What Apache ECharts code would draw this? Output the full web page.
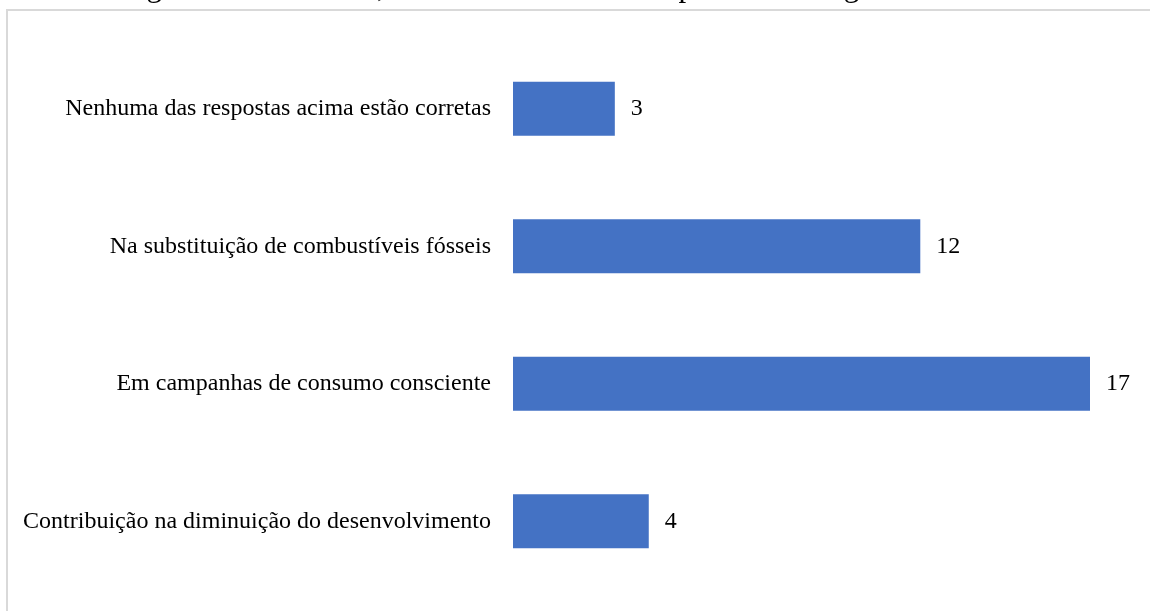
<!DOCTYPE html>
<html>
<head>
<meta charset="utf-8">
<style>
  html, body { margin: 0; padding: 0; background: #ffffff; }
  #chart { width: 1150px; height: 611px; }
</style>
<script src="https://cdn.jsdelivr.net/npm/echarts@6/dist/echarts.min.js"></script>
</head>
<body>
<div id="chart"></div>
<script>
// Answer options, listed top to bottom
const categories = [
  'Nenhuma das respostas acima estão corretas',
  'Na substituição de combustíveis fósseis',
  'Em campanhas de consumo consciente',
  'Contribuição na diminuição do desenvolvimento'
];
// Number of responses for each option
const responses = [3, 12, 17, 4];

const titleText = 'Figura 3 – Para você, os créditos de carbono podem ser negociados como:';
const serif = '"Liberation Serif", "Times New Roman", serif';

const chart = echarts.init(document.getElementById('chart'), null, { renderer: 'canvas' });

chart.setOption({
  backgroundColor: '#ffffff',
  animation: false,
  grid: { left: 513, right: 60, top: 40, bottom: 21, containLabel: false },
  xAxis: {
    type: 'value',
    min: 0,
    max: 17,
    show: false
  },
  yAxis: {
    type: 'category',
    data: categories,
    inverse: true,
    axisLine: { show: false },
    axisTick: { show: false },
    axisLabel: {
      margin: 22,
      color: '#000000',
      fontFamily: serif,
      fontSize: 24
    }
  },
  series: [{
    type: 'bar',
    data: responses,
    barWidth: 54,
    itemStyle: { color: '#4472C4' },
    label: {
      show: true,
      position: 'right',
      distance: 16,
      color: '#000000',
      fontFamily: serif,
      fontSize: 24
    }
  }],
  graphic: [
    {
      type: 'rect',
      silent: true,
      z: -1,
      shape: { x: 7, y: 10, width: 1200, height: 700 },
      style: { fill: 'none', stroke: '#d9d9d9', lineWidth: 2 }
    },
    {
      type: 'text',
      silent: true,
      x: 580,
      y: 3,
      style: {
        text: titleText,
        fill: '#000000',
        font: '31px ' + serif,
        align: 'center',
        verticalAlign: 'bottom'
      }
    }
  ]
});
</script>
</body>
</html>
